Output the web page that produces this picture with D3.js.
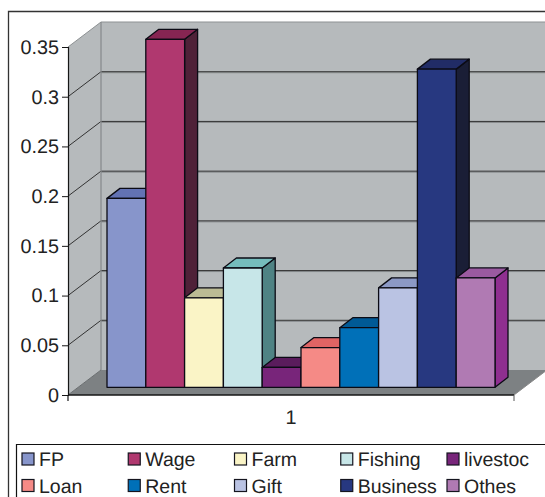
<!DOCTYPE html>
<html><head><meta charset="utf-8">
<script src="https://cdn.jsdelivr.net/npm/d3@7/dist/d3.min.js"></script>
<style>html,body{margin:0;padding:0;background:#fff;overflow:hidden}svg{display:block}text{font-family:"Liberation Sans",Arial,sans-serif;fill:#222;text-rendering:geometricPrecision}</style>
</head><body><svg id="c" width="545" height="497"></svg>
<script>
const categories=["1"];
const seriesNames=["FP","Wage","Farm","Fishing","livestoc","Loan","Rent","Gift","Business","Othes"];
const seriesValues=[0.19,0.35,0.09,0.12,0.02,0.04,0.06,0.10,0.32,0.11];
const frontColors=["#8795cb","#b0386f","#faf4c6","#c7e6e8","#78257a","#f58a86","#0070b8","#bac3e3","#273880","#b07ab3"];
const topColors=["#6272b4","#862552","#bbbb94","#75bcbc","#5a1c5c","#e06464","#005a96","#8c99c5","#212c66","#9a5aa0"];
const sideColors=["#4a5688","#4f2138","#8a8a68","#4f8384","#45154a","#a84a48","#00406c","#6a7498","#1a1e36","#8f2f90"];
const yTicks=[0,0.05,0.1,0.15,0.2,0.25,0.3,0.35];
const yTickLabels=["0","0.05","0.1","0.15","0.2","0.25","0.3","0.35"];

const svg=d3.select("#c");
const ink="#161616";
const y=d3.scaleLinear().domain([0,0.35]).range([395,47]);
const xCat=d3.scaleBand().domain(categories).range([68,514]);
const xBar=d3.scaleBand().domain(seriesNames).range([107,495]);
const wallDx=33,wallDy=-25,wallRight=548,barDy=-7.7,depthDx=13,depthDy=-10;
const pts=a=>a.map(p=>p.join(",")).join(" ");
const x0=xCat.range()[0],x1=xCat.range()[1];

// frame
svg.append("path").attr("d","M8.5,497V11.5H545").attr("fill","none").attr("stroke","#333").attr("stroke-width",1.3);

// walls and floor
svg.append("polygon").attr("points",pts([[x0,y(0)],[x0,y(0.35)],[x0+wallDx,y(0.35)+wallDy],[x0+wallDx,y(0)+wallDy]])).attr("fill","#b6babc");
svg.append("rect").attr("x",x0+wallDx).attr("y",y(0.35)+wallDy).attr("width",wallRight-x0-wallDx).attr("height",348).attr("fill","#b6babc");
svg.append("polygon").attr("points",pts([[x0,y(0)],[x0+wallDx,y(0)+wallDy],[x1+wallDx,y(0)+wallDy],[x1,y(0)]])).attr("fill","#7d8183");

// gridlines
yTicks.slice(1).forEach(t=>{
  const top=t===0.35, c=top?"#8d9193":"#333";
  const yy=y(t);
  if(!top) svg.append("line").attr("x1",x0+wallDx).attr("x2",wallRight).attr("y1",yy+wallDy+1).attr("y2",yy+wallDy+1).attr("stroke","#85898b").attr("stroke-width",1);
  svg.append("line").attr("x1",x0+wallDx).attr("x2",wallRight).attr("y1",yy+wallDy).attr("y2",yy+wallDy).attr("stroke",c).attr("stroke-width",1);
  svg.append("line").attr("x1",x0).attr("x2",x0+wallDx).attr("y1",yy).attr("y2",yy+wallDy).attr("stroke",c).attr("stroke-width",1);
});
svg.append("line").attr("x1",x0+wallDx).attr("x2",x0+wallDx).attr("y1",y(0.35)+wallDy).attr("y2",y(0)+wallDy).attr("stroke","#85898b").attr("stroke-width",1.2);
svg.append("line").attr("x1",x0).attr("x2",x0+wallDx).attr("y1",y(0)).attr("y2",y(0)+wallDy).attr("stroke","#6a6e70").attr("stroke-width",1);

// bars
seriesNames.forEach((n,i)=>{
  const l=xBar(n),w=xBar.bandwidth(),t=y(seriesValues[i])+barDy,b=y(0)+barDy;
  const g=svg.append("g").attr("stroke","#0b0b14").attr("stroke-width",1.3).attr("stroke-linejoin","round");
  g.append("polygon").attr("points",pts([[l+w,t],[l+w+depthDx,t+depthDy],[l+w+depthDx,b+depthDy],[l+w,b]])).attr("fill",sideColors[i]);
  g.append("polygon").attr("points",pts([[l,t],[l+depthDx,t+depthDy],[l+w+depthDx,t+depthDy],[l+w,t]])).attr("fill",topColors[i]);
  g.append("rect").attr("x",l).attr("y",t).attr("width",w).attr("height",b-t).attr("fill",frontColors[i]);
});

// axes
const yAxis=d3.axisLeft(y).tickValues(yTicks).tickSize(6).tickPadding(3).tickFormat((d,i)=>yTickLabels[i]);
const gy=svg.append("g").attr("transform",`translate(${x0},0)`).call(yAxis);
gy.select(".domain").attr("stroke",ink).attr("stroke-width",1.2);
gy.selectAll("line").attr("stroke",ink);
gy.selectAll("text").attr("font-size",19.8).attr("font-family",null).attr("fill","#222");
svg.append("line").attr("x1",x0).attr("x2",x0).attr("y1",y(0)).attr("y2",401).attr("stroke",ink).attr("stroke-width",1.2);
svg.append("line").attr("x1",x0).attr("x2",x1).attr("y1",y(0)).attr("y2",y(0)).attr("stroke",ink).attr("stroke-width",1.4);
svg.append("line").attr("x1",x1).attr("x2",x1).attr("y1",y(0)).attr("y2",401).attr("stroke","#555").attr("stroke-width",1);
svg.append("line").attr("x1",x1).attr("x2",x1+wallDx).attr("y1",y(0)).attr("y2",y(0)+wallDy).attr("stroke","#888").attr("stroke-width",1);
categories.forEach(c=>svg.append("text").attr("x",xCat(c)+xCat.bandwidth()/2).attr("y",424).attr("text-anchor","middle").attr("font-size",19.8).text(c));

// legend
svg.append("path").attr("d","M16.5,497V444.5H545").attr("fill","none").attr("stroke","#111").attr("stroke-width",1.2);
const colX=d3.scalePoint().domain(d3.range(5)).range([22,447]);
const rowY=d3.scalePoint().domain(d3.range(2)).range([453,479.5]);
seriesNames.forEach((n,i)=>{
  const cx=colX(i%5),ry=rowY(Math.floor(i/5));
  svg.append("rect").attr("x",cx).attr("y",ry).attr("width",12).attr("height",12).attr("fill",frontColors[i]).attr("stroke","#15151f").attr("stroke-width",1.2);
  svg.append("text").attr("x",cx+17).attr("y",ry+13).attr("font-size",19.5).text(n);
});
</script></body></html>
